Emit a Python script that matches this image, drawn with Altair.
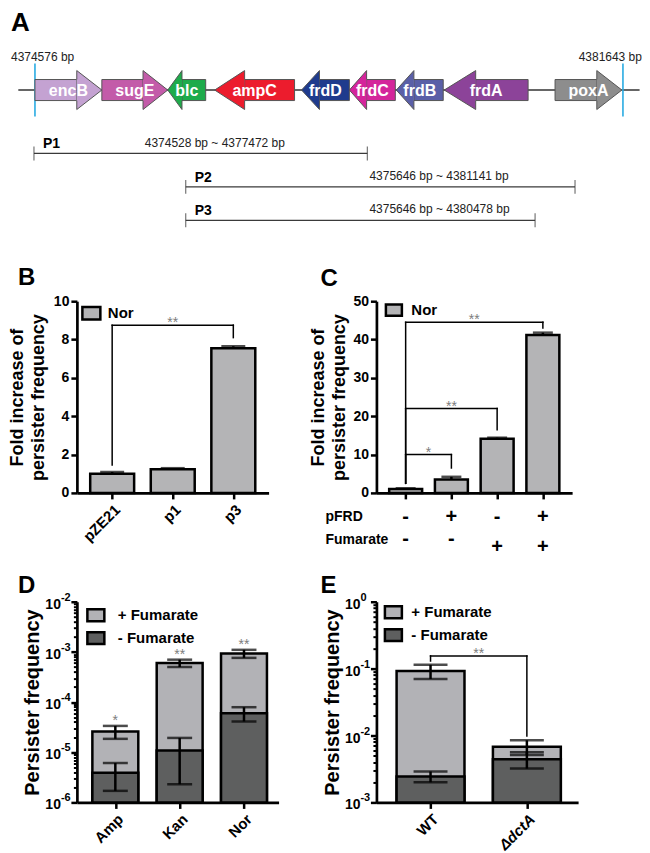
import json
import altair as alt
import pandas as pd

FONT = "Liberation Sans"

# ---------------- data ----------------
# Panel A: genomic window, genes (schematic positions in bp) and cloned fragments
window_start = 4374576
window_end = 4381643
gene_names = ["encB", "sugE", "blc", "ampC", "frdD", "frdC", "frdB", "frdA", "poxA"]
gene_start = [4374576, 4375380, 4376172, 4376736, 4377780, 4378355, 4378919, 4379495, 4380827]
gene_end = [4375380, 4376172, 4376628, 4377696, 4378355, 4378907, 4379483, 4380503, 4381630]
gene_strand = ["+", "+", "-", "-", "-", "-", "-", "-", "+"]
primer_names = ["P1", "P2", "P3"]
primer_start = [4374564, 4376388, 4376388]
primer_end = [4378571, 4381067, 4380587]
primer_span = ["4374528 bp ~ 4377472 bp", "4375646 bp ~ 4381141 bp", "4375646 bp ~ 4380478 bp"]

# Panel B
b_strains = ["pZE21", "p1", "p3"]
b_fold = [1.0, 1.23, 7.55]
b_err = [0.09, 0.06, 0.1]
b_ticks = [0, 2, 4, 6, 8, 10]
b_br_from, b_br_to, b_br_top, b_br_from_low, b_br_to_low, b_br_sig = [0], [2], [8.75], [1.45], [8.1], ["**"]

# Panel C
c_fold = [1.0, 3.5, 14.1, 41.2]
c_err = [0.2, 0.7, 0.3, 0.6]
c_ticks = [0, 10, 20, 30, 40, 50]
c_pfrd = ["-", "+", "-", "+"]
c_fum = ["-", "-", "+", "+"]
c_br_from, c_br_to = [0, 0, 0], [1, 2, 3]
c_br_top, c_br_from_low, c_br_to_low = [10.0, 22.0, 44.5], [2.5, 2.5, 2.5], [6.5, 16.5, 43.0]
c_br_sig = ["*", "**", "**"]

# Panel D
d_antibiotics = ["Amp", "Kan", "Nor"]
d_plus = [2.6e-5, 6.0e-4, 9.3e-4]
d_plus_err = [0.75e-5, 1.0e-4, 1.7e-4]
d_minus = [3.9e-6, 1.08e-5, 6.0e-5]
d_minus_err = [2.2e-6, 8.5e-6, 1.9e-5]
d_sig = ["*", "**", "**"]
d_decades = [-6, -5, -4, -3, -2]

# Panel E
e_strains = ["WT", "ΔdctA"]
e_plus = [0.092, 6.8e-3]
e_plus_err = [0.022, 1.7e-3]
e_minus = [2.45e-3, 4.4e-3]
e_minus_err = [0.45e-3, 1.2e-3]
e_decades = [-3, -2, -1, 0]
e_br_from, e_br_to, e_br_top, e_br_from_low, e_br_to_low, e_br_sig = [0], [1], [0.155], [0.13], [9.8e-3], ["**"]

# ---------------- styles ----------------
GENE_COLORS = ["#c4a2d2", "#c35ba9", "#1eab4b", "#ec1c2d", "#1f3b8d", "#d4259b", "#5a5fa7", "#8c4399", "#8d8d8d"]
GENE_EDGE = "#555555"
NOR_GRAY = "#b4b4b6"
LIGHT_GRAY = "#b2b2b6"
DARK_GRAY = "#5e5f5f"
SIG_GRAY = "#7d7d7d"
BLUE = "#29abe2"
BOX = "M-1,-0.7H1V0.7H-1Z"

AX = dict(domainColor="black", domainWidth=2.7, tickColor="black", tickWidth=2.5, tickSize=6,
          labelFont=FONT, labelFontWeight="bold", labelFontStyle="normal", labelColor="black",
          labelFontSize=14, labelPadding=2, labelOverlap=False, labelFlush=False, labelBound=False,
          titleFont=FONT, titleFontWeight="bold", titleColor="black", grid=False)


def axis(**kw):
    d = dict(AX)
    d.update(kw)
    return alt.Axis(**d)


def label_expr(names):
    return json.dumps(names, ensure_ascii=False) + "[datum.value]"


def box_legend(x, y, size, offset, lexpr=None):
    kw = dict(orient="none", legendX=x, legendY=y, title=None, symbolType=BOX, symbolSize=size,
              symbolStrokeColor="black", symbolStrokeWidth=2.5, labelFont=FONT, labelFontSize=15,
              labelFontWeight="bold", labelColor="black", labelOffset=offset, rowPadding=1, padding=0)
    if lexpr:
        kw["labelExpr"] = lexpr
    return alt.Legend(**kw)


def letter(ch, x, y, size=24):
    return alt.Chart(pd.DataFrame({"panel": [ch]})).mark_text(
        font=FONT, fontSize=size, fontWeight="bold", align="left", baseline="alphabetic", color="black"
    ).encode(text="panel:N", x=alt.value(x), y=alt.value(y))


def bracket_layers(df, xs, ys):
    X = lambda f: alt.X(f, scale=xs)
    Y = lambda f: alt.Y(f, scale=ys)
    base = alt.Chart(df)
    rule = dict(color="black", strokeWidth=1.5, strokeCap="square")
    h = base.mark_rule(**rule).encode(x=X("a:Q"), x2="b:Q", y=Y("top:Q"))
    l = base.mark_rule(**rule).encode(x=X("a:Q"), y=Y("top:Q"), y2="a_low:Q")
    r = base.mark_rule(**rule).encode(x=X("b:Q"), y=Y("top:Q"), y2="b_low:Q")
    s = base.transform_calculate(mid="(datum.a + datum.b) / 2").mark_text(
        font=FONT, fontSize=14, color=SIG_GRAY, baseline="alphabetic", dy=2
    ).encode(x=X("mid:Q"), y=Y("top:Q"), text="sig:N")
    return [h, l, r, s]


def bracket_df(a, b, top, a_low, b_low, sig):
    return pd.DataFrame({"a": a, "b": b, "top": top, "a_low": a_low, "b_low": b_low, "sig": sig})


def log_axis(lo, hi, title):
    vals = [m * 10.0 ** e for e in range(lo, hi) for m in range(1, 10)] + [10.0 ** hi]
    major = "abs(log(datum.value) / LN10 - round(log(datum.value) / LN10)) < 0.01"
    return axis(values=vals, labels=False, title=title, titleFontSize=20, titlePadding=27,
                tickSize={"condition": {"test": major, "value": 6}, "value": 3.5},
                tickWidth={"condition": {"test": major, "value": 2.5}, "value": 2})


def log_labels(decades, ys):
    df = pd.DataFrame({"exp": decades})
    df["value"] = 10.0 ** df["exp"]
    df["sup"] = df["exp"].astype(str)
    base = alt.Chart(df)
    ten = base.mark_text(font=FONT, fontSize=14, fontWeight="bold", align="right", baseline="middle",
                         dy=3, color="black").encode(
        x=alt.value(-16), y=alt.Y("value:Q", scale=ys), text=alt.value("10"))
    sup = base.mark_text(font=FONT, fontSize=11, fontWeight="bold", align="left", baseline="middle",
                         dy=-4, color="black").encode(
        x=alt.value(-16), y=alt.Y("value:Q", scale=ys), text="sup:N")
    return [ten, sup]


def lin_axis(values, title, pad):
    return axis(values=values, tickCount=len(values), labelExpr="format(datum.value, 'd')", title=title,
                titleFontSize=18, titleLineHeight=21, titlePadding=pad)


# ---------------- Panel A ----------------
A_W, A_H = 202, 184
A_DOM = [4375080, 4377504]
BP_PER_PX = (A_DOM[1] - A_DOM[0]) / A_W
HEAD = 0.375          # share of an arrow taken by its head
BODY = 0.54           # body half-height relative to head half-height
HEAD_HALF_PX = 19.5   # head half-height in pixels

genes = pd.DataFrame({"gene": gene_names, "start": gene_start, "end": gene_end, "strand": gene_strand})
genes["len"] = genes["end"] - genes["start"]
plus = genes["strand"] == "+"
genes["base"] = genes["end"].where(plus, genes["start"]) + (genes["len"] * HEAD).where(~plus, -genes["len"] * HEAD)
genes["tip"] = genes["end"].where(plus, genes["start"])
genes["body0"] = genes["start"].where(plus, genes["base"])
genes["body1"] = genes["base"].where(plus, genes["end"])
genes["mid"] = (genes["start"] + genes["end"]) / 2


def head_path(row):
    u = HEAD * row["len"] / BP_PER_PX / HEAD_HALF_PX
    u = -u if row["strand"] == "+" else u
    return f"M{u:.3f},-{BODY}L{u:.3f},-1L0,0L{u:.3f},1L{u:.3f},{BODY}"


genes["head"] = genes.apply(head_path, axis=1)

xA = alt.Scale(domain=A_DOM, nice=False, zero=False)
yA = alt.Scale(domain=[-1, 1], range=[101, 62], nice=False, zero=False)


def XA(f):
    return alt.X(f, scale=xA, axis=None)


def YAd(v):
    return alt.Y(datum=v, scale=yA, axis=None)


gene_color = alt.Color("gene:N", scale=alt.Scale(domain=gene_names, range=GENE_COLORS), legend=None)

win = pd.DataFrame({"start": [window_start], "end": [window_end]})
backbone = alt.Chart(win).transform_calculate(l="datum.start - 200", r="datum.end + 200").mark_rule(
    color="#333333", strokeWidth=1.5).encode(x=XA("l:Q"), x2="r:Q", y=YAd(0))

bounds_df = pd.DataFrame({"pos": [window_start, window_end],
                          "label": [f"{window_start} bp", f"{window_end} bp"]})
brule = alt.Chart(bounds_df).mark_rule(color=BLUE, strokeWidth=1.6).encode(
    x=XA("pos:Q"), y=YAd(-1.36), y2=alt.datum(1.36))
blab_l = alt.Chart(bounds_df).transform_filter(f"datum.pos == {window_start}").mark_text(
    font=FONT, fontSize=12, align="left", dx=-24, baseline="middle", color="#222222"
).encode(x=XA("pos:Q"), y=YAd(1.7), text="label:N")
blab_r = alt.Chart(bounds_df).transform_filter(f"datum.pos == {window_end}").mark_text(
    font=FONT, fontSize=12, align="right", dx=19, baseline="middle", color="#222222"
).encode(x=XA("pos:Q"), y=YAd(1.7), text="label:N")

bodies = alt.Chart(genes).mark_rect(stroke=GENE_EDGE, strokeWidth=1).encode(
    x=XA("body0:Q"), x2="body1:Q", y=YAd(-BODY), y2=alt.datum(BODY), color=gene_color)
heads = alt.Chart(genes).mark_point(filled=True, opacity=1, size=(2 * HEAD_HALF_PX) ** 2,
                                    stroke=GENE_EDGE, strokeWidth=1).encode(
    x=XA("tip:Q"), y=YAd(0), shape=alt.Shape("head:N", scale=None), color=gene_color)
glab = alt.Chart(genes).mark_text(
    font=FONT, fontSize=16, fontWeight="bold", color="white", baseline="middle", dy=1
).encode(x=XA("mid:Q"), y=YAd(0), text="gene:N")

track = alt.layer(backbone, brule, bodies, heads, glab, blab_l, blab_r, letter("A", -66, 22, 26))

prim = pd.DataFrame({"name": primer_names, "start": primer_start, "end": primer_end, "span": primer_span})
yP = alt.Scale(type="point", domain=primer_names, range=[145, 212], padding=0)


def YP():
    return alt.Y("name:N", scale=yP, axis=None)


prule = alt.Chart(prim).mark_rule(color="#3a3a3a", strokeWidth=1.2).encode(x=XA("start:Q"), x2="end:Q", y=YP())
pticks = alt.Chart(prim).transform_fold(["start", "end"], as_=["which", "pos"]).mark_tick(
    orient="vertical", size=14, thickness=1.2, color="#3a3a3a").encode(x=XA("pos:Q"), y=YP())
pname = alt.Chart(prim).mark_text(font=FONT, fontSize=14, fontWeight="bold", align="left", dx=9, dy=-9,
                                  baseline="middle").encode(x=XA("start:Q"), y=YP(), text="name:N")
pspan1 = alt.Chart(prim).transform_filter("datum.name == 'P1'").mark_text(
    font=FONT, fontSize=12, align="left", dx=111, dy=-10, baseline="middle", color="#222222"
).encode(x=XA("start:Q"), y=YP(), text="span:N")
pspan2 = alt.Chart(prim).transform_filter("datum.name != 'P1'").mark_text(
    font=FONT, fontSize=12, align="left", dx=184, dy=-11, baseline="middle", color="#222222"
).encode(x=XA("start:Q"), y=YP(), text="span:N")
primers = alt.layer(prule, pticks, pname, pspan1, pspan2)

A = alt.layer(track, primers).resolve_scale(y="independent").properties(width=A_W, height=A_H)

# ---------------- Panel B ----------------
dfB = pd.DataFrame({"idx": list(range(len(b_strains))), "strain": b_strains, "fold": b_fold, "err": b_err})
dfB["hi"] = dfB["fold"] + dfB["err"]
dfB["group"] = "Nor"
xB = alt.Scale(domain=[-0.5, 2.5], nice=False, zero=False)
yB = alt.Scale(domain=[0, 10], nice=False)
FOLD_TITLE = ["Fold increase of", "persister frequency"]

barsB = alt.Chart(dfB).mark_bar(orient="vertical", size=44, stroke="black", strokeWidth=2.5).encode(
    x=alt.X("idx:Q", scale=xB, axis=axis(values=[0, 1, 2], labelExpr=label_expr(b_strains), labelAngle=-45,
                                          labelFontSize=15, labelPadding=3, title=None)),
    y=alt.Y("fold:Q", scale=yB, axis=lin_axis(b_ticks, FOLD_TITLE, 6)),
    color=alt.Color("group:N", scale=alt.Scale(domain=["Nor"], range=[NOR_GRAY]),
                    legend=box_legend(4, 1.5, 324, 6)))
whB = alt.Chart(dfB).mark_rule(color="black", strokeWidth=2.5).encode(
    x=alt.X("idx:Q", scale=xB), y=alt.Y("fold:Q", scale=yB), y2="hi:Q")
capB = alt.Chart(dfB).mark_tick(orient="horizontal", size=24, thickness=2.5, color="black").encode(
    x=alt.X("idx:Q", scale=xB), y=alt.Y("hi:Q", scale=yB))
brB = bracket_layers(bracket_df(b_br_from, b_br_to, b_br_top, b_br_from_low, b_br_to_low, b_br_sig), xB, yB)
B = alt.layer(barsB, whB, capB, *brB, letter("B", -59, -16)).properties(width=192, height=192)

# ---------------- Panel C ----------------
dfC = pd.DataFrame({"idx": list(range(len(c_fold))), "fold": c_fold, "err": c_err,
                    "pfrd": c_pfrd, "fum": c_fum})
dfC["hi"] = dfC["fold"] + dfC["err"]
dfC["group"] = "Nor"
xC = alt.Scale(domain=[-0.53, 3.53], nice=False, zero=False)
yC = alt.Scale(domain=[0, 50], nice=False)
XC = lambda f: alt.X(f, scale=xC)

barsC = alt.Chart(dfC).mark_bar(orient="vertical", size=33, stroke="black", strokeWidth=2.5).encode(
    x=alt.X("idx:Q", scale=xC, axis=axis(values=[0, 1, 2, 3], labels=False, title=None)),
    y=alt.Y("fold:Q", scale=yC, axis=lin_axis(c_ticks, FOLD_TITLE, 4)),
    color=alt.Color("group:N", scale=alt.Scale(domain=["Nor"], range=[NOR_GRAY]),
                    legend=box_legend(8, -0.5, 256, 8)))
whC = alt.Chart(dfC).mark_rule(color="black", strokeWidth=2.5).encode(
    x=XC("idx:Q"), y=alt.Y("fold:Q", scale=yC), y2="hi:Q")
capC = alt.Chart(dfC).mark_tick(orient="horizontal", size=20, thickness=2.5, color="black").encode(
    x=XC("idx:Q"), y=alt.Y("hi:Q", scale=yC))
brC = bracket_layers(bracket_df(c_br_from, c_br_to, c_br_top, c_br_from_low, c_br_to_low, c_br_sig), xC, yC)
SIGN = dict(font=FONT, fontSize=20, fontWeight="bold", baseline="middle", color="black")
sign_p = alt.Chart(dfC).mark_text(**SIGN).encode(x=XC("idx:Q"), y=alt.value(216), text="pfrd:N")
sign_fm = alt.Chart(dfC).transform_filter("datum.fum == '-'").mark_text(**SIGN).encode(
    x=XC("idx:Q"), y=alt.value(238), text="fum:N")
sign_fp = alt.Chart(dfC).transform_filter("datum.fum == '+'").mark_text(**SIGN).encode(
    x=XC("idx:Q"), y=alt.value(246), text="fum:N")
rowlab = pd.DataFrame({"row": ["pFRD", "Fumarate"]})
RL = dict(font=FONT, fontSize=14, fontWeight="bold", baseline="middle", align="left", color="black")
rl1 = alt.Chart(rowlab).transform_filter("datum.row == 'pFRD'").mark_text(**RL).encode(
    x=alt.value(-51), y=alt.value(216), text="row:N")
rl2 = alt.Chart(rowlab).transform_filter("datum.row == 'Fumarate'").mark_text(**RL).encode(
    x=alt.value(-51), y=alt.value(239), text="row:N")
C = alt.layer(barsC, whC, capC, *brC, sign_p, sign_fm, sign_fp, rl1, rl2, letter("C", -56, -15)).properties(
    width=196, height=192)


# ---------------- Panels D & E ----------------
def fum_frame(cats, plus_v, plus_err, minus_v, minus_err, sig=None):
    rows = []
    for i, c in enumerate(cats):
        rows.append(dict(idx=i, cat=c, cond="+ Fumarate", val=plus_v[i], err=plus_err[i],
                         sig=(sig[i] if sig else "")))
    for i, c in enumerate(cats):
        rows.append(dict(idx=i, cat=c, cond="- Fumarate", val=minus_v[i], err=minus_err[i], sig=""))
    df = pd.DataFrame(rows)
    df["lo"] = df["val"] - df["err"]
    df["hi"] = df["val"] + df["err"]
    return df


FUM_LEXPR = "datum.label == '- Fumarate' ? '\u00a0- Fumarate' : datum.label"


def fum_panel(df, cats, xs, decades, bar_w, cap_w, legend, x_axis_extra, extra_layers, width, height):
    lo_exp, hi_exp = min(decades), max(decades)
    ys = alt.Scale(type="log", domain=[10.0 ** lo_exp, 10.0 ** hi_exp], nice=False)
    X = lambda f: alt.X(f, scale=xs)
    Y = lambda f: alt.Y(f, scale=ys)
    bars = alt.Chart(df).mark_bar(orient="vertical", size=bar_w, stroke="black", strokeWidth=2.5).encode(
        x=alt.X("idx:Q", scale=xs, axis=axis(values=list(range(len(cats))), labelExpr=label_expr(cats),
                                              labelAngle=-45, labelFontSize=15, labelPadding=3, title=None,
                                              **x_axis_extra)),
        y=alt.Y("val:Q", scale=ys, stack=None, axis=log_axis(lo_exp, hi_exp, "Persister frequency")),
        y2=alt.datum(10.0 ** lo_exp),
        color=alt.Color("cond:N", scale=alt.Scale(domain=["+ Fumarate", "- Fumarate"],
                                                  range=[LIGHT_GRAY, DARK_GRAY]), legend=legend))
    wh = alt.Chart(df).mark_rule(color="black", strokeWidth=2.5).encode(x=X("idx:Q"), y=Y("lo:Q"), y2="hi:Q")
    cap_hi = alt.Chart(df).mark_tick(orient="horizontal", size=cap_w, thickness=2.5, color="black").encode(
        x=X("idx:Q"), y=Y("hi:Q"))
    cap_lo = alt.Chart(df).mark_tick(orient="horizontal", size=cap_w, thickness=2.5, color="black").encode(
        x=X("idx:Q"), y=Y("lo:Q"))
    layers = [bars, wh, cap_hi, cap_lo] + log_labels(decades, ys)
    layers += [mk(ys) for mk in extra_layers]
    return alt.layer(*layers).properties(width=width, height=height)


dfD = fum_frame(d_antibiotics, d_plus, d_plus_err, d_minus, d_minus_err, d_sig)
xD = alt.Scale(domain=[-0.52, 2.46], nice=False, zero=False)
starsD = lambda ys: alt.Chart(dfD).transform_filter("datum.sig != ''").mark_text(
    font=FONT, fontSize=14, color=SIG_GRAY, baseline="alphabetic", dy=-1
).encode(x=alt.X("idx:Q", scale=xD), y=alt.Y("hi:Q", scale=ys), text="sig:N")
D = fum_panel(dfD, d_antibiotics, xD, d_decades, 46, 25, box_legend(9, 3.5, 289, 12, FUM_LEXPR), {},
              [starsD, lambda ys: letter("D", -59, -9)], 202, 201)

dfE = fum_frame(e_strains, e_plus, e_plus_err, e_minus, e_minus_err)
xE = alt.Scale(domain=[-0.51, 1.48], nice=False, zero=False)
brE_df = bracket_df(e_br_from, e_br_to, e_br_top, e_br_from_low, e_br_to_low, e_br_sig)
ital = {"labelFontStyle": {"condition": {"test": "datum.value == 1", "value": "italic"}, "value": "normal"}}
E = fum_panel(dfE, e_strains, xE, e_decades, 68, 34, box_legend(7, 0.5, 289, 8, FUM_LEXPR), ital,
              [lambda ys, i=i: bracket_layers(brE_df, xE, ys)[i] for i in range(4)]
              + [lambda ys: letter("E", -56, -9)], 202, 201)

# ---------------- layout ----------------
spacer = alt.Chart(pd.DataFrame({"s": [0]})).mark_point(opacity=0, size=1).encode(
    x=alt.value(0), y=alt.value(1)).properties(width=1, height=1)

chart = alt.concat(A, spacer, B, C, D, E, columns=2, align="each", bounds="flush",
                   spacing={"row": 109, "column": 98}).resolve_scale(color="independent").resolve_legend(
    color="independent").properties(padding=0).configure_view(stroke=None).configure_axis(
    labelOverlap=False, labelFlush=False)

chart.save("out.html", embed_options={"renderer": "svg", "actions": False})
